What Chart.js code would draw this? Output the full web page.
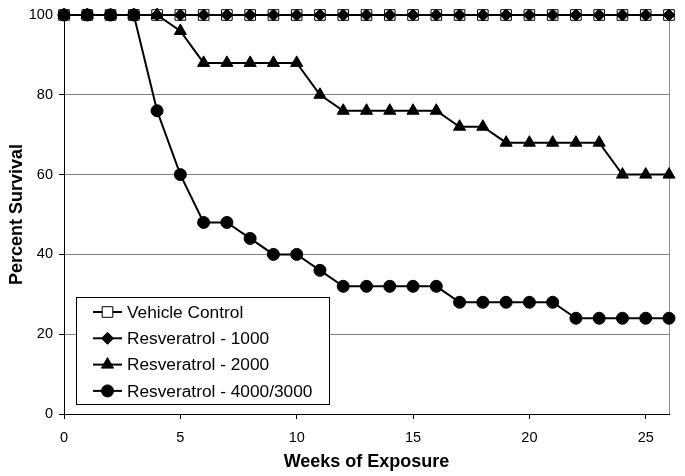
<!DOCTYPE html>
<html>
<head>
<meta charset="utf-8">
<script src="https://cdn.jsdelivr.net/npm/chart.js@4/dist/chart.umd.min.js"></script>
<style>
  html, body { margin: 0; padding: 0; background: #fff; }
  canvas { display: block; }
</style>
</head>
<body>
<canvas id="chart" width="685" height="476"></canvas>
<script>
var FONT = '"Liberation Sans", Arial, Helvetica, sans-serif';

// weeks of exposure (x values)
var weeks = [0, 1, 2, 3, 4, 5, 6, 7, 8, 9, 10, 11, 12, 13, 14, 15, 16, 17, 18, 19, 20, 21, 22, 23, 24, 25, 26];
var xTicks = [0, 5, 10, 15, 20, 25];
var yTicks = [0, 20, 40, 60, 80, 100];

var seriesNames = ['Vehicle Control', 'Resveratrol - 1000', 'Resveratrol - 2000', 'Resveratrol - 4000/3000'];

// percent survival per week
var vehicleControl = [100, 100, 100, 100, 100, 100, 100, 100, 100, 100, 100, 100, 100, 100, 100, 100, 100, 100, 100, 100, 100, 100, 100, 100, 100, 100, 100];
var resveratrol1000 = [100, 100, 100, 100, 100, 100, 100, 100, 100, 100, 100, 100, 100, 100, 100, 100, 100, 100, 100, 100, 100, 100, 100, 100, 100, 100, 100];
var resveratrol2000 = [100, 100, 100, 100, 100, 96, 88, 88, 88, 88, 88, 80, 76, 76, 76, 76, 76, 72, 72, 68, 68, 68, 68, 68, 60, 60, 60];
var resveratrol4000 = [100, 100, 100, 100, 76, 60, 48, 48, 44, 40, 40, 36, 32, 32, 32, 32, 32, 28, 28, 28, 28, 28, 24, 24, 24, 24, 24];

function pts(values) {
    return weeks.map(function (w, i) { return { x: w, y: values[i] }; });
}

var markers = [
    { style: 'rect', radius: 7.5, fill: '#ffffff' },
    { style: 'rectRot', radius: 6, fill: '#000000' },
    { style: 'triangle', radius: 7, fill: '#000000' },
    { style: 'circle', radius: 6, fill: '#000000' }
];

function makeDataset(i, values) {
    return {
        label: seriesNames[i],
        data: pts(values),
        borderColor: '#000',
        borderWidth: 2,
        tension: 0,
        pointStyle: markers[i].style,
        pointRadius: markers[i].radius,
        pointHoverRadius: markers[i].radius,
        pointBackgroundColor: markers[i].fill,
        pointBorderColor: '#000',
        pointBorderWidth: 1,
        clip: false,
        order: 4 - i
    };
}

// right edge of the plot frame
var frame = {
    id: 'frame',
    beforeDatasetsDraw: function (chart) {
        var a = chart.chartArea, ctx = chart.ctx;
        ctx.save();
        ctx.strokeStyle = '#8c8c8c';
        ctx.lineWidth = 1;
        ctx.beginPath();
        ctx.moveTo(a.right + 0.5, a.top);
        ctx.lineTo(a.right + 0.5, a.bottom);
        ctx.stroke();
        ctx.restore();
    }
};

function drawMarker(ctx, i, x, y) {
    var m = markers[i];
    ctx.beginPath();
    if (m.style === 'rect') {
        var s = Math.SQRT1_2 * m.radius;
        ctx.rect(x - s, y - s, 2 * s, 2 * s);
    } else if (m.style === 'rectRot') {
        ctx.moveTo(x, y - m.radius);
        ctx.lineTo(x + m.radius, y);
        ctx.lineTo(x, y + m.radius);
        ctx.lineTo(x - m.radius, y);
        ctx.closePath();
    } else if (m.style === 'triangle') {
        var r = m.radius;
        ctx.moveTo(x, y - r);
        ctx.lineTo(x + Math.sin(2 * Math.PI / 3) * r, y + 0.5 * r);
        ctx.lineTo(x - Math.sin(2 * Math.PI / 3) * r, y + 0.5 * r);
        ctx.closePath();
    } else {
        ctx.arc(x, y, m.radius, 0, Math.PI * 2);
    }
    ctx.fillStyle = m.fill;
    ctx.fill();
    ctx.lineWidth = 1;
    ctx.strokeStyle = '#000';
    ctx.stroke();
}

// legend box inside the plot, lower left
var boxLegend = {
    id: 'boxLegend',
    afterDraw: function (chart) {
        var a = chart.chartArea, ctx = chart.ctx;
        var bx = a.left + 12, bw = 253, bh = 107;
        var by = a.bottom - 10 - bh;
        ctx.save();
        ctx.fillStyle = '#fff';
        ctx.fillRect(bx, by, bw, bh);
        ctx.strokeStyle = '#000';
        ctx.lineWidth = 1;
        ctx.strokeRect(bx + 0.5, by + 0.5, bw, bh);
        ctx.font = '17.3px ' + FONT;
        ctx.textBaseline = 'middle';
        ctx.fillStyle = '#000';
        for (var i = 0; i < seriesNames.length; i++) {
            var y = by + 15 + i * 26.3;
            ctx.beginPath();
            ctx.moveTo(bx + 17, y);
            ctx.lineTo(bx + 46, y);
            ctx.lineWidth = 2;
            ctx.strokeStyle = '#000';
            ctx.stroke();
            drawMarker(ctx, i, bx + 31.5, y);
            ctx.fillStyle = '#000';
            ctx.fillText(seriesNames[i], bx + 51, y + 1);
        }
        ctx.restore();
    }
};

var ctx = document.getElementById('chart').getContext('2d');
var chart = new Chart(ctx, {
    type: 'line',
    data: {
        datasets: [
            makeDataset(0, vehicleControl),
            makeDataset(1, resveratrol1000),
            makeDataset(2, resveratrol2000),
            makeDataset(3, resveratrol4000)
        ]
    },
    options: {
        responsive: false,
        animation: false,
        events: [],
        layout: { padding: { top: 15, right: 16, left: 0, bottom: 0 } },
        plugins: {
            legend: { display: false },
            tooltip: { enabled: false }
        },
        scales: {
            x: {
                type: 'linear',
                min: 0,
                max: 26,
                afterBuildTicks: function (scale) {
                    scale.ticks = xTicks.map(function (v) { return { value: v }; });
                },
                afterFit: function (scale) { scale.height = 62; },
                grid: { drawOnChartArea: false, drawTicks: true, tickLength: 5, tickColor: '#000' },
                border: { color: '#000', width: 1 },
                ticks: {
                    color: '#000',
                    font: { family: FONT, size: 14.5 },
                    padding: 10,
                    maxRotation: 0,
                    autoSkip: false
                },
                title: {
                    display: true,
                    text: 'Weeks of Exposure',
                    color: '#000',
                    font: { family: FONT, size: 18, weight: 'bold' },
                    padding: { top: 0, bottom: 3 }
                }
            },
            y: {
                min: 0,
                max: 100,
                afterBuildTicks: function (scale) {
                    scale.ticks = yTicks.map(function (v) { return { value: v }; });
                },
                afterFit: function (scale) { scale.width = 64; },
                grid: { color: '#808080', lineWidth: 1, drawTicks: true, tickLength: 5, tickColor: '#000' },
                border: { color: '#000', width: 1 },
                ticks: {
                    color: '#000',
                    font: { family: FONT, size: 14.5 },
                    padding: 6
                },
                title: {
                    display: true,
                    text: 'Percent Survival',
                    color: '#000',
                    font: { family: FONT, size: 18, weight: 'bold' },
                    padding: { top: 6, bottom: 0 }
                }
            }
        }
    },
    plugins: [frame, boxLegend]
});
</script>
</body>
</html>
